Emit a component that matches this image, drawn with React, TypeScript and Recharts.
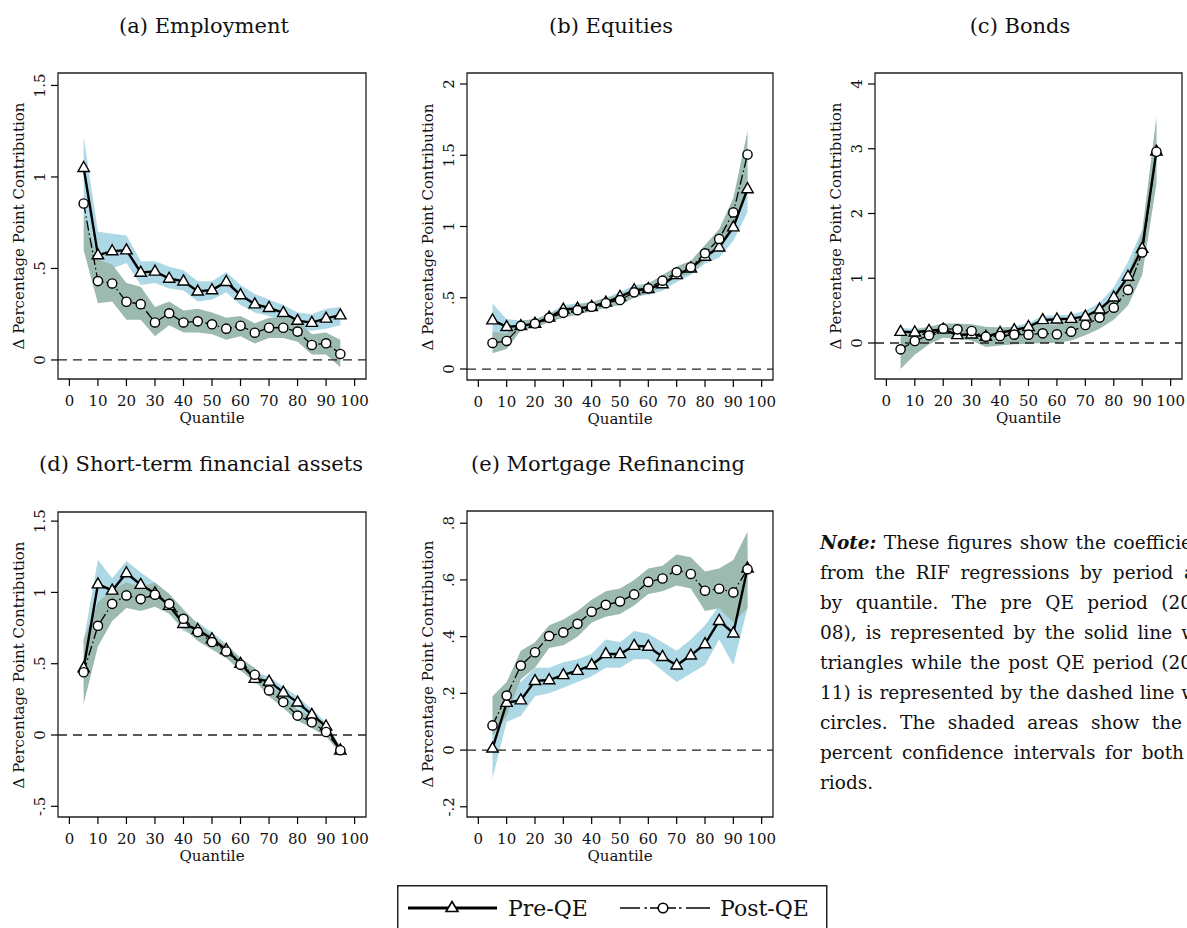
import React from 'react';
import {
  ComposedChart,
  Area,
  Line,
  XAxis,
  YAxis,
  ReferenceLine,
  ReferenceArea,
} from 'recharts';

// Quantiles at which the RIF regressions were estimated
const quantiles = [5, 10, 15, 20, 25, 30, 35, 40, 45, 50, 55, 60, 65, 70, 75, 80, 85, 90, 95];
const xTicks = [0, 10, 20, 30, 40, 50, 60, 70, 80, 90, 100];

// (a) Employment
const empPre = [1.05, 0.573, 0.595, 0.6, 0.478, 0.484, 0.445, 0.43, 0.375, 0.382, 0.427, 0.355, 0.305, 0.285, 0.258, 0.215, 0.204, 0.227, 0.245];
const empPreLo = [0.8, 0.45, 0.5, 0.53, 0.41, 0.42, 0.39, 0.38, 0.32, 0.33, 0.37, 0.3, 0.26, 0.24, 0.21, 0.17, 0.16, 0.17, 0.19];
const empPreHi = [1.22, 0.7, 0.69, 0.68, 0.54, 0.54, 0.51, 0.49, 0.43, 0.43, 0.48, 0.41, 0.36, 0.33, 0.3, 0.26, 0.25, 0.28, 0.29];
const empPost = [0.855, 0.431, 0.418, 0.318, 0.305, 0.205, 0.255, 0.205, 0.211, 0.195, 0.171, 0.187, 0.149, 0.176, 0.176, 0.155, 0.082, 0.091, 0.033];
const empPostLo = [0.6, 0.31, 0.32, 0.22, 0.22, 0.13, 0.19, 0.15, 0.15, 0.14, 0.11, 0.13, 0.09, 0.12, 0.12, 0.1, 0.03, 0.03, -0.04];
const empPostHi = [0.8, 0.55, 0.52, 0.42, 0.4, 0.29, 0.32, 0.27, 0.28, 0.26, 0.23, 0.24, 0.2, 0.23, 0.23, 0.22, 0.14, 0.15, 0.11];
const empTicks = [0, 0.5, 1, 1.5];

// (b) Equities
const eqPre = [0.343, 0.296, 0.303, 0.319, 0.362, 0.418, 0.425, 0.437, 0.467, 0.507, 0.554, 0.563, 0.596, 0.66, 0.707, 0.789, 0.854, 0.995, 1.263];
const eqPreLo = [0.23, 0.22, 0.27, 0.29, 0.33, 0.37, 0.39, 0.4, 0.43, 0.46, 0.51, 0.52, 0.55, 0.61, 0.66, 0.74, 0.78, 0.9, 1.1];
const eqPreHi = [0.46, 0.35, 0.34, 0.35, 0.39, 0.45, 0.46, 0.47, 0.5, 0.54, 0.59, 0.6, 0.64, 0.7, 0.75, 0.84, 0.93, 1.09, 1.42];
const eqPost = [0.183, 0.197, 0.303, 0.319, 0.359, 0.394, 0.413, 0.437, 0.462, 0.484, 0.538, 0.566, 0.62, 0.678, 0.714, 0.812, 0.913, 1.099, 1.505];
const eqPostLo = [0.11, 0.14, 0.27, 0.29, 0.33, 0.36, 0.38, 0.41, 0.43, 0.45, 0.5, 0.53, 0.58, 0.64, 0.67, 0.76, 0.85, 1.0, 1.3];
const eqPostHi = [0.26, 0.25, 0.34, 0.35, 0.39, 0.43, 0.45, 0.47, 0.5, 0.52, 0.57, 0.6, 0.66, 0.72, 0.76, 0.87, 0.98, 1.2, 1.67];
const eqTicks = [0, 0.5, 1, 1.5, 2];

// (c) Bonds
const bdPre = [0.175, 0.165, 0.19, 0.21, 0.124, 0.134, 0.098, 0.16, 0.2, 0.25, 0.356, 0.366, 0.376, 0.41, 0.52, 0.706, 1.026, 1.459, 2.96];
const bdPreLo = [0.12, 0.11, 0.13, 0.15, 0.06, 0.07, 0.03, 0.1, 0.14, 0.19, 0.29, 0.3, 0.31, 0.33, 0.42, 0.58, 0.86, 1.22, 2.5];
const bdPreHi = [0.23, 0.22, 0.25, 0.27, 0.19, 0.2, 0.17, 0.22, 0.26, 0.31, 0.42, 0.43, 0.44, 0.5, 0.62, 0.86, 1.25, 1.75, 3.4];
const bdPost = [-0.098, 0.031, 0.118, 0.222, 0.211, 0.186, 0.098, 0.108, 0.129, 0.129, 0.149, 0.134, 0.175, 0.278, 0.392, 0.546, 0.82, 1.397, 2.954];
const bdPostLo = [-0.4, -0.18, -0.02, 0.08, 0.06, 0.04, -0.06, -0.04, -0.02, -0.01, 0.0, 0.0, 0.04, 0.12, 0.22, 0.36, 0.58, 1.05, 2.45];
const bdPostHi = [0.14, 0.2, 0.25, 0.3, 0.3, 0.29, 0.25, 0.24, 0.25, 0.26, 0.28, 0.29, 0.32, 0.42, 0.55, 0.72, 1.05, 1.7, 3.5];
const bdTicks = [0, 1, 2, 3, 4];

// (d) Short-term financial assets
const stPre = [0.47, 1.058, 1.014, 1.136, 1.054, 0.995, 0.907, 0.78, 0.738, 0.673, 0.598, 0.5, 0.395, 0.376, 0.299, 0.229, 0.143, 0.061, -0.107];
const stPreLo = [0.3, 0.9, 0.93, 1.05, 0.98, 0.93, 0.85, 0.73, 0.69, 0.63, 0.56, 0.46, 0.36, 0.34, 0.26, 0.19, 0.11, 0.03, -0.13];
const stPreHi = [0.66, 1.23, 1.1, 1.22, 1.14, 1.07, 0.98, 0.84, 0.79, 0.72, 0.64, 0.54, 0.44, 0.41, 0.34, 0.27, 0.18, 0.09, -0.08];
const stPost = [0.44, 0.766, 0.92, 0.979, 0.953, 0.984, 0.92, 0.815, 0.722, 0.652, 0.586, 0.493, 0.423, 0.313, 0.231, 0.136, 0.089, 0.021, -0.107];
const stPostLo = [0.22, 0.62, 0.8, 0.89, 0.87, 0.9, 0.85, 0.75, 0.66, 0.6, 0.54, 0.45, 0.38, 0.27, 0.19, 0.1, 0.05, -0.01, -0.13];
const stPostHi = [0.67, 0.93, 1.02, 1.07, 1.04, 1.07, 0.99, 0.88, 0.78, 0.7, 0.63, 0.54, 0.47, 0.36, 0.28, 0.18, 0.13, 0.06, -0.08];
const stTicks = [-0.5, 0, 0.5, 1, 1.5];

// (e) Mortgage Refinancing
const mrPre = [0.006, 0.167, 0.176, 0.244, 0.247, 0.265, 0.28, 0.3, 0.339, 0.339, 0.368, 0.365, 0.329, 0.299, 0.334, 0.374, 0.456, 0.412, 0.641];
const mrPreLo = [-0.1, 0.1, 0.12, 0.19, 0.2, 0.22, 0.24, 0.26, 0.29, 0.29, 0.32, 0.32, 0.28, 0.24, 0.27, 0.3, 0.39, 0.3, 0.5];
const mrPreHi = [0.1, 0.22, 0.24, 0.29, 0.29, 0.31, 0.32, 0.34, 0.39, 0.38, 0.42, 0.41, 0.38, 0.35, 0.39, 0.44, 0.51, 0.5, 0.72];
const mrPost = [0.087, 0.192, 0.298, 0.345, 0.402, 0.415, 0.445, 0.488, 0.512, 0.524, 0.549, 0.593, 0.605, 0.635, 0.621, 0.562, 0.569, 0.556, 0.638];
const mrPostLo = [0.05, 0.12, 0.25, 0.29, 0.36, 0.37, 0.4, 0.45, 0.47, 0.48, 0.51, 0.55, 0.56, 0.58, 0.57, 0.49, 0.5, 0.45, 0.5];
const mrPostHi = [0.19, 0.24, 0.35, 0.38, 0.44, 0.46, 0.49, 0.53, 0.56, 0.57, 0.6, 0.64, 0.65, 0.69, 0.68, 0.63, 0.64, 0.67, 0.77];
const mrTicks = [-0.2, 0, 0.2, 0.4, 0.6, 0.8];

const FONT = '"DejaVu Serif", serif';
const INK = '#111';
const BLUE = '#add8e6';
const GREEN = '#9cbab0';
const X_DOMAIN: [number, number] = [-4, 104];
const Y_TITLE = '\u0394 Percentage Point Contribution';

// Stata-style tick labels: ".5", "-.2"
const fmt = (v: number) => String(v).replace(/^(-?)0\./, '$1.');

type Frame = { x0: number; x1: number; y0: number; y1: number };

type PanelProps = {
  title: string;
  titleX: number;
  titleY: number;
  left: number;
  top: number;
  width: number;
  height: number;
  frame: Frame;
  yDomain: [number, number];
  yTicks: number[];
  pre: number[];
  preLo: number[];
  preHi: number[];
  post: number[];
  postLo: number[];
  postHi: number[];
};

const triangleDot = (props: any) => {
  const { cx, cy, index } = props;
  if (cx == null || cy == null) return <g key={`t${index}`} />;
  return (
    <path
      key={`t${index}`}
      d={`M${cx},${cy - 6.3}L${cx + 5.7},${cy + 3.7}L${cx - 5.7},${cy + 3.7}Z`}
      fill="#fff"
      stroke="#000"
      strokeWidth={1.4}
      strokeDasharray="none"
    />
  );
};

const circleDot = (props: any) => {
  const { cx, cy, index } = props;
  if (cx == null || cy == null) return <g key={`c${index}`} />;
  return (
    <circle
      key={`c${index}`}
      cx={cx}
      cy={cy}
      r={4.6}
      fill="#fff"
      stroke="#000"
      strokeWidth={1.4}
      strokeDasharray="none"
    />
  );
};

function Panel(p: PanelProps) {
  const YW = 50;
  const XH = 50;
  const margin = {
    top: p.frame.y0 - p.top,
    left: p.frame.x0 - p.left - YW,
    right: p.left + p.width - p.frame.x1,
    bottom: p.top + p.height - p.frame.y1 - XH,
  };
  const plotLeft = p.frame.x0 - p.left;
  const plotBottom = p.frame.y1 - p.top;
  const data = quantiles.map((q, i) => ({
    q,
    pre: p.pre[i],
    post: p.post[i],
    preBand: [p.preLo[i], p.preHi[i]],
    postBand: [p.postLo[i], p.postHi[i]],
  }));

  const xTick = (t: any) => (
    <text
      x={t.x}
      y={plotBottom + 27}
      textAnchor="middle"
      fontFamily={FONT}
      fontSize={15}
      fill={INK}
    >
      {t.payload.value}
    </text>
  );

  const yTick = (t: any) => {
    const bx = plotLeft - 13;
    return (
      <text
        x={bx}
        y={t.y}
        transform={`rotate(-90 ${bx} ${t.y})`}
        textAnchor="middle"
        fontFamily={FONT}
        fontSize={15}
        fill={INK}
      >
        {fmt(t.payload.value)}
      </text>
    );
  };

  // horizontal position of x = 50 for the axis title
  const midX = p.frame.x0 + ((50 - X_DOMAIN[0]) / (X_DOMAIN[1] - X_DOMAIN[0])) * (p.frame.x1 - p.frame.x0);

  return (
    <>
      <div
        style={{
          position: 'absolute',
          left: p.titleX,
          top: p.titleY,
          transform: 'translate(-50%, -50%)',
          whiteSpace: 'nowrap',
          fontFamily: FONT,
          fontSize: 21,
          color: INK,
        }}
      >
        {p.title}
      </div>
      <div style={{ position: 'absolute', left: p.left, top: p.top }}>
        <ComposedChart width={p.width} height={p.height} data={data} margin={margin}>
          <XAxis
            dataKey="q"
            type="number"
            domain={X_DOMAIN}
            ticks={xTicks}
            interval={0}
            allowDataOverflow
            axisLine={false}
            tickSize={7}
            tickLine={{ stroke: '#000', strokeWidth: 1.2 }}
            tick={xTick}
            height={XH}
          />
          <YAxis
            type="number"
            domain={p.yDomain}
            ticks={p.yTicks}
            interval={0}
            allowDataOverflow
            axisLine={false}
            tickSize={7}
            tickLine={{ stroke: '#000', strokeWidth: 1.2 }}
            tick={yTick}
            width={YW}
          />
          <Area
            dataKey="preBand"
            type="linear"
            stroke="none"
            fill={BLUE}
            fillOpacity={1}
            activeDot={false}
            isAnimationActive={false}
          />
          <Area
            dataKey="postBand"
            type="linear"
            stroke="none"
            fill={GREEN}
            fillOpacity={1}
            activeDot={false}
            isAnimationActive={false}
          />
          <ReferenceLine y={0} stroke="#222" strokeWidth={1.3} strokeDasharray="9 6" />
          <Line
            dataKey="pre"
            type="linear"
            stroke="#000"
            strokeWidth={2.4}
            dot={triangleDot}
            activeDot={false}
            isAnimationActive={false}
          />
          <Line
            dataKey="post"
            type="linear"
            stroke="#000"
            strokeWidth={1.3}
            strokeDasharray="10 3 1.5 3"
            dot={circleDot}
            activeDot={false}
            isAnimationActive={false}
          />
          <ReferenceArea
            x1={X_DOMAIN[0]}
            x2={X_DOMAIN[1]}
            y1={p.yDomain[0]}
            y2={p.yDomain[1]}
            fill="none"
            stroke="#222"
            strokeWidth={1.3}
            ifOverflow="visible"
          />
        </ComposedChart>
      </div>
      <div
        style={{
          position: 'absolute',
          left: p.frame.x0 - 39,
          top: (p.frame.y0 + p.frame.y1) / 2,
          transform: 'translate(-50%, -50%) rotate(-90deg)',
          whiteSpace: 'nowrap',
          fontFamily: FONT,
          fontSize: 15,
          color: INK,
        }}
      >
        {Y_TITLE}
      </div>
      <div
        style={{
          position: 'absolute',
          left: midX,
          top: p.frame.y1 + 39,
          transform: 'translate(-50%, -50%)',
          whiteSpace: 'nowrap',
          fontFamily: FONT,
          fontSize: 15,
          color: INK,
        }}
      >
        Quantile
      </div>
    </>
  );
}

const noteLines: { text: string; width: number; justify: boolean }[] = [
  { text: 'These figures show the coefficie', width: 372, justify: true },
  { text: 'from the RIF regressions by period a', width: 375, justify: true },
  { text: 'by quantile.  The pre QE period (20', width: 372, justify: true },
  { text: '08), is represented by the solid line w', width: 377, justify: true },
  { text: 'triangles while the post QE period (20', width: 372, justify: true },
  { text: '11) is represented by the dashed line w', width: 377, justify: true },
  { text: 'circles.  The shaded areas show the', width: 362, justify: true },
  { text: 'percent confidence intervals for both', width: 364, justify: true },
  { text: 'riods.', width: 100, justify: false },
];

function Note() {
  return (
    <>
      {noteLines.map((ln, i) => (
        <div
          key={i}
          style={{
            position: 'absolute',
            left: 820,
            top: 528 + i * 30,
            width: ln.width,
            height: 30,
            lineHeight: '30px',
            fontFamily: FONT,
            fontSize: 18.5,
            color: INK,
            whiteSpace: 'nowrap',
            textAlign: ln.justify ? 'justify' : 'left',
            textAlignLast: ln.justify ? 'justify' : 'left',
          }}
        >
          {i === 0 && <b style={{ fontStyle: 'italic' }}>Note:</b>}
          {i === 0 ? ' ' : ''}
          {ln.text}
        </div>
      ))}
    </>
  );
}

function Key() {
  return (
    <svg
      style={{ position: 'absolute', left: 397, top: 885 }}
      width={432}
      height={43}
    >
      <rect x={0.75} y={0.75} width={429} height={60} fill="#fff" stroke="#222" strokeWidth={1.5} />
      <line x1={11} y1={23} x2={100} y2={23} stroke="#000" strokeWidth={3} />
      <path d="M55,16.5L61,26.5L49,26.5Z" fill="#fff" stroke="#000" strokeWidth={1.6} />
      <text x={111} y={31} fontFamily={FONT} fontSize={22} fill={INK}>Pre-QE</text>
      <line x1={223} y1={23} x2={243} y2={23} stroke="#000" strokeWidth={1.5} />
      <line x1={247.5} y1={23} x2={250} y2={23} stroke="#000" strokeWidth={1.5} />
      <line x1={253} y1={23} x2={261} y2={23} stroke="#000" strokeWidth={1.5} />
      <line x1={271} y1={23} x2={279} y2={23} stroke="#000" strokeWidth={1.5} />
      <circle cx={266} cy={23} r={4.8} fill="#fff" stroke="#000" strokeWidth={1.6} />
      <line x1={282} y1={23} x2={284.5} y2={23} stroke="#000" strokeWidth={1.5} />
      <line x1={289} y1={23} x2={313} y2={23} stroke="#000" strokeWidth={1.5} />
      <text x={323} y={31} fontFamily={FONT} fontSize={22} fill={INK}>Post-QE</text>
    </svg>
  );
}

export default function App() {
  return (
    <div
      style={{
        position: 'absolute',
        left: 0,
        top: 0,
        width: 1187,
        height: 928,
        overflow: 'hidden',
        background: '#fff',
      }}
    >
      <Panel
        title="(a) Employment"
        titleX={204}
        titleY={26}
        left={0}
        top={50}
        width={380}
        height={395}
        frame={{ x0: 58, x1: 366, y0: 73, y1: 379 }}
        yDomain={[-0.104, 1.568]}
        yTicks={empTicks}
        pre={empPre}
        preLo={empPreLo}
        preHi={empPreHi}
        post={empPost}
        postLo={empPostLo}
        postHi={empPostHi}
      />
      <Panel
        title="(b) Equities"
        titleX={611}
        titleY={26}
        left={400}
        top={50}
        width={390}
        height={395}
        frame={{ x0: 467, x1: 773, y0: 73, y1: 380 }}
        yDomain={[-0.077, 2.077]}
        yTicks={eqTicks}
        pre={eqPre}
        preLo={eqPreLo}
        preHi={eqPreHi}
        post={eqPost}
        postLo={eqPostLo}
        postHi={eqPostHi}
      />
      <Panel
        title="(c) Bonds"
        titleX={1020}
        titleY={26}
        left={800}
        top={50}
        width={387}
        height={395}
        frame={{ x0: 875, x1: 1182, y0: 73, y1: 379 }}
        yDomain={[-0.556, 4.17]}
        yTicks={bdTicks}
        pre={bdPre}
        preLo={bdPreLo}
        preHi={bdPreHi}
        post={bdPost}
        postLo={bdPostLo}
        postHi={bdPostHi}
      />
      <Panel
        title="(d) Short-term financial assets"
        titleX={201}
        titleY={464}
        left={0}
        top={490}
        width={380}
        height={395}
        frame={{ x0: 58, x1: 366, y0: 512, y1: 817 }}
        yDomain={[-0.575, 1.564]}
        yTicks={stTicks}
        pre={stPre}
        preLo={stPreLo}
        preHi={stPreHi}
        post={stPost}
        postLo={stPostLo}
        postHi={stPostHi}
      />
      <Panel
        title="(e) Mortgage Refinancing"
        titleX={608}
        titleY={464}
        left={400}
        top={490}
        width={390}
        height={395}
        frame={{ x0: 467, x1: 773, y0: 511, y1: 817 }}
        yDomain={[-0.236, 0.843]}
        yTicks={mrTicks}
        pre={mrPre}
        preLo={mrPreLo}
        preHi={mrPreHi}
        post={mrPost}
        postLo={mrPostLo}
        postHi={mrPostHi}
      />
      <Note />
      <Key />
    </div>
  );
}
